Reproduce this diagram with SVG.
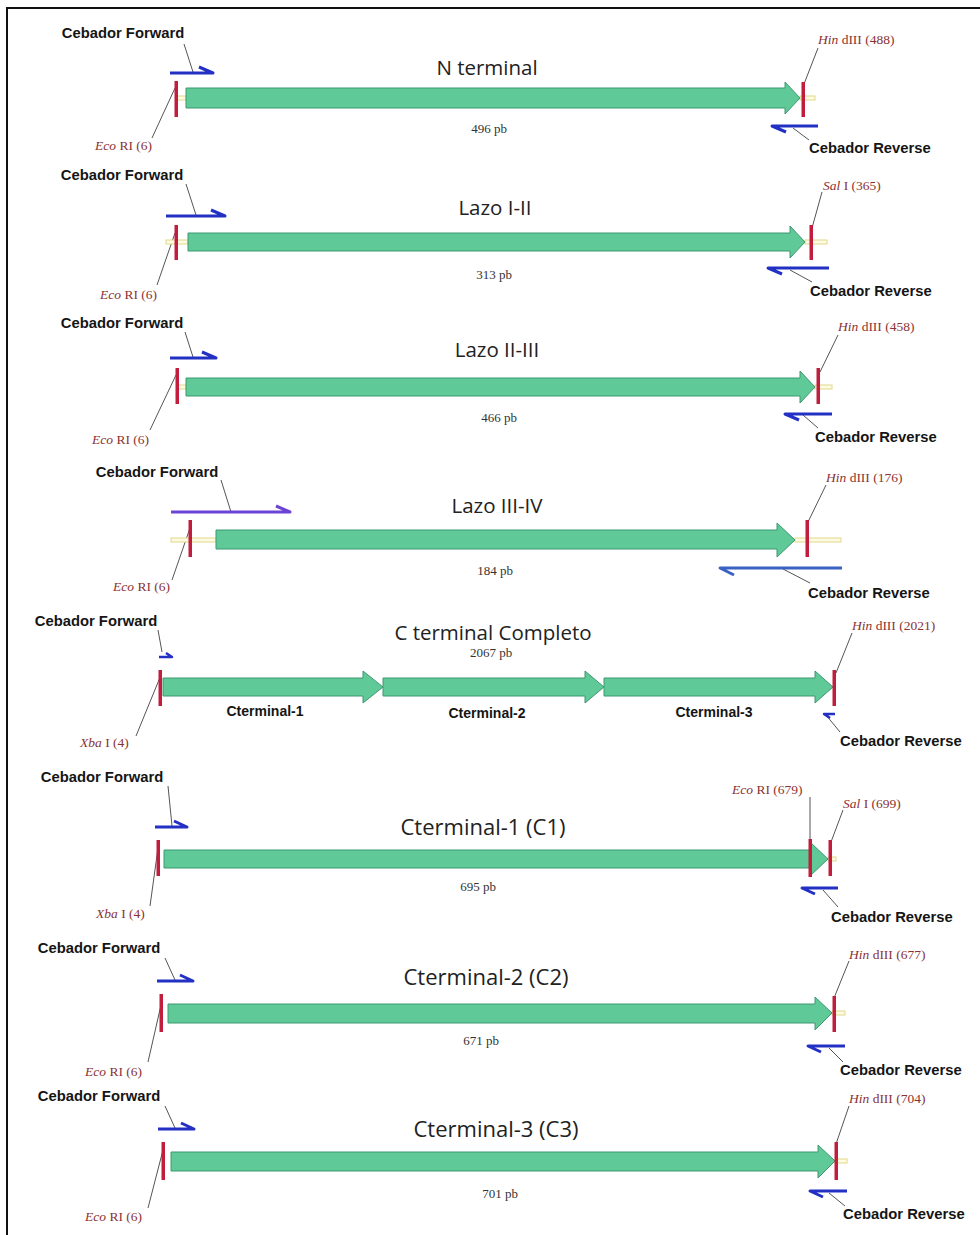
<svg xmlns="http://www.w3.org/2000/svg" width="980" height="1235" viewBox="0 0 980 1235">
<style>
.lbl{font-family:"Liberation Sans",Arial,sans-serif;font-weight:bold;font-size:14.8px;fill:#151515}
.ttl{font-family:"Open Sans","DejaVu Sans",sans-serif;font-size:20.5px;fill:#222;text-anchor:middle}
.ttl2{font-family:"Open Sans","DejaVu Sans",sans-serif;font-size:22px;fill:#222;text-anchor:middle}
.pb{font-family:"Liberation Serif",serif;font-size:13px;fill:#333;text-anchor:middle}
.enz{font-family:"Liberation Serif",serif;font-size:13.5px;fill:#8a3232}
.it{font-style:italic}
.seg{font-family:"Liberation Sans",Arial,sans-serif;font-weight:bold;font-size:14px;fill:#151515;text-anchor:middle}
.arr{fill:#5fca98;stroke:#3f9870;stroke-width:1}
.bar{fill:#c21d3c}
.stub{fill:#fdfbe3;stroke:#e2d88a;stroke-width:1}
.fwd{fill:none;stroke:#2330c4;stroke-width:3;stroke-linejoin:round}
.lead{stroke:#555;stroke-width:1;fill:none}
</style>
<rect x="0" y="0" width="980" height="1235" fill="#fff"/>
<rect x="7" y="8" width="990" height="1240" fill="none" stroke="#111" stroke-width="2"/>

<g id="connectors">
<line class="lead" x1="184" y1="44" x2="193" y2="72"/><line class="lead" x1="152" y1="138" x2="175" y2="88"/><line class="lead" x1="818" y1="48" x2="804" y2="84"/><line class="lead" x1="793" y1="128" x2="809" y2="140"/>
<line class="lead" x1="186" y1="184" x2="196" y2="215"/><line class="lead" x1="157" y1="285" x2="175" y2="233"/><line class="lead" x1="822" y1="192" x2="812" y2="228"/><line class="lead" x1="790" y1="270" x2="812" y2="282"/>
<line class="lead" x1="185" y1="332" x2="193" y2="357"/><line class="lead" x1="150" y1="430" x2="176" y2="375"/><line class="lead" x1="838" y1="335" x2="820" y2="372"/><line class="lead" x1="803" y1="415" x2="818" y2="428"/>
<line class="lead" x1="221" y1="480" x2="231" y2="512"/><line class="lead" x1="172" y1="580" x2="190" y2="528"/><line class="lead" x1="826" y1="485" x2="808" y2="522"/><line class="lead" x1="783" y1="569" x2="810" y2="583"/>
<line class="lead" x1="158" y1="630" x2="162" y2="652"/><line class="lead" x1="136" y1="736" x2="161" y2="675"/><line class="lead" x1="852" y1="633" x2="836" y2="673"/><line class="lead" x1="826" y1="715" x2="840" y2="732"/>
<line class="lead" x1="168" y1="786" x2="172" y2="826"/><line class="lead" x1="150" y1="906" x2="158" y2="848"/><line class="lead" x1="810" y1="797" x2="810" y2="840"/><line class="lead" x1="843" y1="810" x2="831" y2="842"/><line class="lead" x1="823" y1="890" x2="838" y2="907"/>
<line class="lead" x1="165" y1="958" x2="175" y2="980"/><line class="lead" x1="148" y1="1062" x2="161" y2="1005"/><line class="lead" x1="849" y1="961" x2="834" y2="998"/><line class="lead" x1="829" y1="1048" x2="843" y2="1062"/>
<line class="lead" x1="165" y1="1106" x2="175" y2="1128"/><line class="lead" x1="148" y1="1208" x2="163" y2="1150"/><line class="lead" x1="849" y1="1106" x2="836" y2="1144"/><line class="lead" x1="829" y1="1193" x2="845" y2="1206"/>
</g>

<g id="track-nterminal">
<rect class="stub" x="176" y="96" width="10" height="4"/><rect class="stub" x="800" y="96" width="15" height="4"/>
<path class="arr" d="M186,88 H785 V82 L800,98 L785,114 V108 H186 Z"/>
<rect class="bar" x="174.5" y="81" width="3.5" height="36"/><rect class="bar" x="801.5" y="82" width="3.5" height="35"/>
<path class="fwd" d="M170,73 H213 L199,67"/><path class="fwd" d="M818,126 H772 L786,132"/>
<text class="lbl" x="123" y="38" text-anchor="middle">Cebador Forward</text>
<text class="lbl" x="809" y="153">Cebador Reverse</text>
<text class="ttl" x="487" y="75">N terminal</text>
<text class="pb" x="489" y="133">496 pb</text>
<text class="enz" x="95" y="150"><tspan class="it">Eco</tspan> RI (6)</text>
<text class="enz" x="818" y="44"><tspan class="it">Hin</tspan> dIII (488)</text>
</g>

<g id="track-lazo-1-2">
<rect class="stub" x="166" y="240" width="22" height="4"/><rect class="stub" x="805" y="240" width="22" height="4"/>
<path class="arr" d="M188,233 H790 V226 L805,242 L790,258 V251 H188 Z"/>
<rect class="bar" x="174.5" y="225" width="3.5" height="35"/><rect class="bar" x="809.5" y="225" width="3.5" height="35"/>
<path class="fwd" d="M166,216 H225 L211,210"/><path class="fwd" d="M829,268 H768 L782,274"/>
<text class="lbl" x="122" y="180" text-anchor="middle">Cebador Forward</text>
<text class="lbl" x="810" y="296">Cebador Reverse</text>
<text class="ttl" x="495" y="215">Lazo I-II</text>
<text class="pb" x="494" y="279">313 pb</text>
<text class="enz" x="100" y="299"><tspan class="it">Eco</tspan> RI (6)</text>
<text class="enz" x="823" y="190"><tspan class="it">Sal</tspan> I (365)</text>
</g>

<g id="track-lazo-2-3">
<rect class="stub" x="177" y="385" width="9" height="4"/><rect class="stub" x="815" y="385" width="17" height="4"/>
<path class="arr" d="M186,378 H800 V371 L815,387 L800,403 V396 H186 Z"/>
<rect class="bar" x="175.5" y="368" width="3.5" height="36"/><rect class="bar" x="816.5" y="368" width="3.5" height="36"/>
<path class="fwd" d="M170,358 H216 L202,352"/><path class="fwd" d="M832,414 H785 L799,420"/>
<text class="lbl" x="122" y="328" text-anchor="middle">Cebador Forward</text>
<text class="lbl" x="815" y="442">Cebador Reverse</text>
<text class="ttl" x="497" y="357">Lazo II-III</text>
<text class="pb" x="499" y="422">466 pb</text>
<text class="enz" x="92" y="444"><tspan class="it">Eco</tspan> RI (6)</text>
<text class="enz" x="838" y="331"><tspan class="it">Hin</tspan> dIII (458)</text>
</g>

<g id="track-lazo-3-4">
<rect class="stub" x="171" y="538" width="45" height="4"/><rect class="stub" x="795" y="538" width="46" height="4"/>
<path class="arr" d="M216,530 H777 V523 L795,540 L777,557 V549 H216 Z"/>
<rect class="bar" x="188.5" y="520" width="3.5" height="37"/><rect class="bar" x="805.5" y="520" width="3.5" height="37"/>
<path class="fwd" style="stroke:#6b44d6" d="M171,512 H290 L276,506"/><path class="fwd" style="stroke:#3a62c2" d="M842,568 H720 L734,575"/>
<text class="lbl" x="157" y="477" text-anchor="middle">Cebador Forward</text>
<text class="lbl" x="808" y="598">Cebador Reverse</text>
<text class="ttl" x="497" y="513">Lazo III-IV</text>
<text class="pb" x="495" y="575">184 pb</text>
<text class="enz" x="113" y="591"><tspan class="it">Eco</tspan> RI (6)</text>
<text class="enz" x="826" y="482"><tspan class="it">Hin</tspan> dIII (176)</text>
</g>

<g id="track-cterminal-completo">
<path class="arr" d="M163,678 H363 V671 L383,687 L363,703 V696 H163 Z"/>
<path class="arr" d="M383,678 H585 V671 L604,687 L585,703 V696 H383 Z"/>
<path class="arr" d="M604,678 H815 V671 L833,687 L815,703 V696 H604 Z"/>
<rect class="bar" x="158.5" y="670" width="3.5" height="36"/><rect class="bar" x="832.5" y="670" width="3.5" height="36"/>
<path class="fwd" style="stroke-width:2.5" d="M159,657 H172 L166,653"/><path class="fwd" style="stroke-width:2.5" d="M835,714 H824 L830,718"/>
<text class="lbl" x="96" y="626" text-anchor="middle">Cebador Forward</text>
<text class="lbl" x="840" y="746">Cebador Reverse</text>
<text class="ttl" x="493" y="640">C terminal Completo</text>
<text class="pb" x="491" y="657">2067 pb</text>
<text class="seg" x="265" y="716">Cterminal-1</text>
<text class="seg" x="487" y="718">Cterminal-2</text>
<text class="seg" x="714" y="717">Cterminal-3</text>
<text class="enz" x="80" y="747"><tspan class="it">Xba</tspan> I (4)</text>
<text class="enz" x="852" y="630"><tspan class="it">Hin</tspan> dIII (2021)</text>
</g>

<g id="track-cterminal-1">
<rect class="stub" x="828" y="857" width="8" height="4"/>
<path class="arr" d="M164,850 H810 V842 L828,859 L810,876 V868 H164 Z"/>
<rect class="bar" x="156.5" y="840" width="3.5" height="36"/><rect class="bar" x="808.5" y="839" width="3.5" height="38"/><rect class="bar" x="828.5" y="840" width="3.5" height="36"/>
<path class="fwd" d="M155,827 H187 L174,821"/><path class="fwd" d="M838,888 H802 L815,894"/>
<text class="lbl" x="102" y="782" text-anchor="middle">Cebador Forward</text>
<text class="lbl" x="831" y="922">Cebador Reverse</text>
<text class="ttl2" x="483" y="835">Cterminal-1 (C1)</text>
<text class="pb" x="478" y="891">695 pb</text>
<text class="enz" x="96" y="918"><tspan class="it">Xba</tspan> I (4)</text>
<text class="enz" x="732" y="794"><tspan class="it">Eco</tspan> RI (679)</text>
<text class="enz" x="843" y="808"><tspan class="it">Sal</tspan> I (699)</text>
</g>

<g id="track-cterminal-2">
<rect class="stub" x="832" y="1011" width="13" height="4"/>
<path class="arr" d="M168,1004 H815 V997 L832,1013 L815,1030 V1023 H168 Z"/>
<rect class="bar" x="159.5" y="994" width="3.5" height="38"/><rect class="bar" x="832.5" y="996" width="3.5" height="36"/>
<path class="fwd" d="M157,981 H193 L180,975"/><path class="fwd" d="M845,1046 H808 L821,1052"/>
<text class="lbl" x="99" y="953" text-anchor="middle">Cebador Forward</text>
<text class="lbl" x="840" y="1075">Cebador Reverse</text>
<text class="ttl2" x="486" y="985">Cterminal-2 (C2)</text>
<text class="pb" x="481" y="1045">671 pb</text>
<text class="enz" x="85" y="1076"><tspan class="it">Eco</tspan> RI (6)</text>
<text class="enz" x="849" y="959"><tspan class="it">Hin</tspan> dIII (677)</text>
</g>

<g id="track-cterminal-3">
<rect class="stub" x="835" y="1159" width="12" height="4"/>
<path class="arr" d="M171,1152 H818 V1145 L835,1161 L818,1178 V1171 H171 Z"/>
<rect class="bar" x="161.5" y="1142" width="3.5" height="38"/><rect class="bar" x="834.5" y="1142" width="3.5" height="38"/>
<path class="fwd" d="M158,1129 H194 L181,1123"/><path class="fwd" d="M847,1191 H810 L823,1197"/>
<text class="lbl" x="99" y="1101" text-anchor="middle">Cebador Forward</text>
<text class="lbl" x="843" y="1219">Cebador Reverse</text>
<text class="ttl2" x="496" y="1137">Cterminal-3 (C3)</text>
<text class="pb" x="500" y="1198">701 pb</text>
<text class="enz" x="85" y="1221"><tspan class="it">Eco</tspan> RI (6)</text>
<text class="enz" x="849" y="1103"><tspan class="it">Hin</tspan> dIII (704)</text>
</g>
</svg>
